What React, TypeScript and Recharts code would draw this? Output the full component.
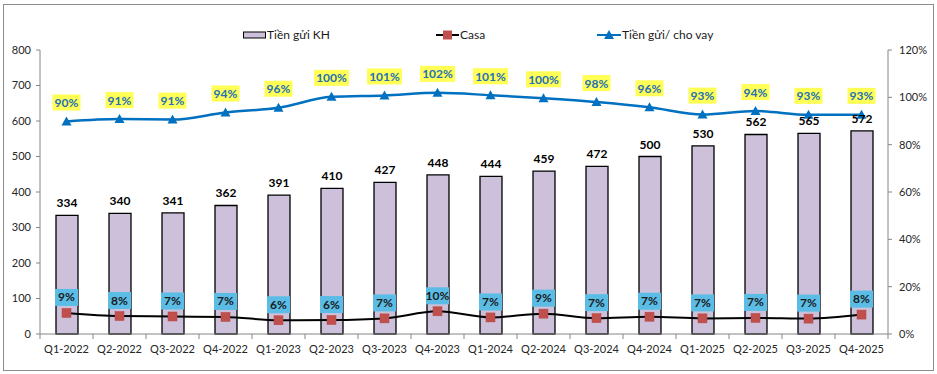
import { Bar, ComposedChart, LabelList, Line, XAxis, YAxis } from "recharts";

const categories = [
  "Q1-2022", "Q2-2022", "Q3-2022", "Q4-2022",
  "Q1-2023", "Q2-2023", "Q3-2023", "Q4-2023",
  "Q1-2024", "Q2-2024", "Q3-2024", "Q4-2024",
  "Q1-2025", "Q2-2025", "Q3-2025", "Q4-2025",
];
const tienGuiKH = [334, 340, 341, 362, 391, 410, 427, 448, 444, 459, 472, 500, 530, 562, 565, 572];
const casa = [8.9, 7.6, 7.4, 7.2, 5.8, 5.9, 6.6, 9.6, 7.0, 8.6, 6.7, 7.3, 6.6, 6.8, 6.5, 8.2];
const tienGuiChoVay = [89.8, 90.8, 90.6, 93.6, 95.6, 100.2, 100.8, 101.9, 100.9, 99.6, 98.0, 95.8, 92.7, 94.2, 92.6, 92.6];
const leftTicks = [0, 100, 200, 300, 400, 500, 600, 700, 800];
const rightTicks = [0, 20, 40, 60, 80, 100, 120];

const data = categories.map((quy, i) => ({
  quy,
  kh: tienGuiKH[i],
  casa: casa[i],
  tyle: tienGuiChoVay[i],
}));

const FONT = "Lato, 'Liberation Sans', sans-serif";
const W = 937;
const H = 374;
const PLOT_LEFT = 40;
const PLOT_RIGHT = 888;
const BAND = (PLOT_RIGHT - PLOT_LEFT) / categories.length;
const AXIS = "#868686";
const TXT = "#262626";

function XTick(props: any) {
  const { x, y, payload, index } = props;
  const last = index === categories.length - 1;
  return (
    <g>
      <line x1={x - BAND / 2} x2={x - BAND / 2} y1={y} y2={y + 5} stroke={AXIS} />
      {last && <line x1={x + BAND / 2} x2={x + BAND / 2} y1={y} y2={y + 5} stroke={AXIS} />}
      <text x={x} y={y + 19} textAnchor="middle" fontSize={11} fill={TXT} fontFamily={FONT}>
        {payload.value}
      </text>
    </g>
  );
}

function BarValue(props: any) {
  const { x, y, width, value } = props;
  return (
    <text x={x + width / 2} y={y - 8} textAnchor="middle" fontSize={12} fontWeight="bold" fill="#000" fontFamily={FONT}>
      {value}
    </text>
  );
}

function CasaLabel(props: any) {
  const { x, y, value } = props;
  const txt = `${Math.round(value)}%`;
  const w = 23;
  return (
    <g>
      <rect x={x - w / 2} y={y - 24} width={w} height={17} fill="#5BBDE6" />
      <text x={x} y={y - 11.5} textAnchor="middle" fontSize={12} fontWeight="bold" fill="#1a1a1a" fontFamily={FONT}>
        {txt}
      </text>
    </g>
  );
}

function TyLeLabel(props: any) {
  const { x, y, value } = props;
  const txt = `${Math.round(value)}%`;
  const w = txt.length > 3 ? 35 : 28;
  return (
    <g>
      <rect x={x - w / 2} y={y - 27} width={w} height={16} fill="#FFFF55" />
      <text x={x} y={y - 14.5} textAnchor="middle" fontSize={12} fontWeight="bold" fill="#2470B8" fontFamily={FONT}>
        {txt}
      </text>
    </g>
  );
}

function SquareDot(props: any) {
  const { cx, cy, index } = props;
  return <rect key={`sq-${index}`} x={cx - 4.5} y={cy - 4.5} width={9} height={9} fill="#C0504D" stroke="#B5443F" strokeWidth={0.5} />;
}

function TriangleDot(props: any) {
  const { cx, cy, index } = props;
  return <path key={`tr-${index}`} d={`M${cx},${cy - 5} L${cx + 5},${cy + 4} L${cx - 5},${cy + 4} Z`} fill="#0070C0" />;
}

function ChuThich() {
  const item = { position: "absolute" as const, top: 27, display: "flex", alignItems: "center", fontSize: 12, color: "#1a1a1a", fontFamily: FONT };
  return (
    <>
      <div style={{ ...item, left: 243 }}>
        <svg width={24} height={12}>
          <rect x={0.5} y={3} width={22} height={6} fill="#CCC0DA" stroke="#000" />
        </svg>
        <span>Tiền gửi KH</span>
      </div>
      <div style={{ ...item, left: 436 }}>
        <svg width={24} height={12}>
          <line x1={0} x2={23} y1={6} y2={6} stroke="#000" strokeWidth={2} />
          <rect x={7} y={1.5} width={9} height={9} fill="#C0504D" />
        </svg>
        <span>Casa</span>
      </div>
      <div style={{ ...item, left: 597 }}>
        <svg width={25} height={12}>
          <line x1={0} x2={24} y1={6} y2={6} stroke="#0070C0" strokeWidth={2} />
          <path d="M12,1 L17,10 L7,10 Z" fill="#0070C0" />
        </svg>
        <span>Tiền gửi/ cho vay</span>
      </div>
    </>
  );
}

export default function App() {
  return (
    <div style={{ position: "absolute", left: 0, top: 0, width: W, height: H, background: "#fff", fontFamily: FONT }}>
      <div style={{ position: "absolute", left: 3, top: 4, width: 929, height: 365, border: "1px solid #8C8C8C" }} />
      <ChuThich />
      <div style={{ position: "absolute", left: 0, top: 0 }}>
        <ComposedChart width={W} height={H} data={data} margin={{ top: 50, right: 4, bottom: 15, left: 10 }} barSize={22}>
          <XAxis
            dataKey="quy"
            axisLine={{ stroke: AXIS }}
            tickLine={false}
            tickSize={0}
            tickMargin={0}
            height={25}
            interval={0}
            tick={<XTick />}
          />
          <YAxis
            yAxisId="left"
            domain={[0, 800]}
            ticks={leftTicks}
            width={30}
            axisLine={{ stroke: AXIS }}
            tickLine={{ stroke: AXIS }}
            tickSize={4}
            tickMargin={5}
            tick={{ fontSize: 11, fill: TXT, fontFamily: FONT }}
          />
          <YAxis
            yAxisId="right"
            orientation="right"
            domain={[0, 120]}
            ticks={rightTicks}
            width={45}
            axisLine={{ stroke: AXIS }}
            tickLine={{ stroke: AXIS }}
            tickSize={4}
            tickMargin={7}
            tickFormatter={(v: number) => `${v}%`}
            tick={{ fontSize: 11, fill: TXT, fontFamily: FONT }}
          />
          <Bar yAxisId="left" dataKey="kh" fill="#CCC0DA" stroke="#000" strokeWidth={1.3} isAnimationActive={false}>
            <LabelList dataKey="kh" content={<BarValue />} />
          </Bar>
          <Line
            yAxisId="right"
            type="monotone"
            dataKey="casa"
            stroke="#000"
            strokeWidth={2}
            dot={SquareDot}
            activeDot={false}
            isAnimationActive={false}
          >
            <LabelList dataKey="casa" content={<CasaLabel />} />
          </Line>
          <Line
            yAxisId="right"
            type="monotone"
            dataKey="tyle"
            stroke="#0070C0"
            strokeWidth={2.5}
            dot={TriangleDot}
            activeDot={false}
            isAnimationActive={false}
          >
            <LabelList dataKey="tyle" content={<TyLeLabel />} />
          </Line>
        </ComposedChart>
      </div>
    </div>
  );
}
